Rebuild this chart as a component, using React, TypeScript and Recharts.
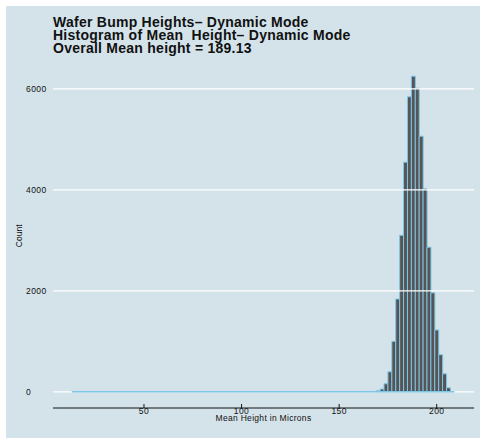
import { BarChart, Bar, XAxis, YAxis, ReferenceLine } from 'recharts'

// histogram of mean bump heights, 2 micron bins (left edges)
const binLeft = [
  169, 171, 173, 175, 177, 179, 181, 183, 185, 187,
  189, 191, 193, 195, 197, 199, 201, 203, 205, 207,
]
const counts = [
  20, 55, 160, 396, 1000, 1838, 3100, 4548, 5842, 6251,
  6013, 5063, 4020, 2865, 1960, 1225, 735, 356, 79, 3,
]
const binWidth = 2
// empty bins run from here up to the first filled bin
const emptyFrom = 13

const xTicks = [50, 100, 150, 200]
const yTicks = [0, 2000, 4000, 6000]

const titleLines = [
  'Wafer Bump Heights\u2013 Dynamic Mode',
  'Histogram of Mean  Height\u2013 Dynamic Mode',
  'Overall Mean height = 189.13',
]

const data = binLeft.map((l, i) => ({ mid: l + binWidth / 2, count: counts[i] }))
const lastEdge = binLeft[binLeft.length - 1] + binWidth

const FONT = '"Liberation Sans", Arial, Helvetica, sans-serif'
const BG = '#d4e3ea'
const BLUE = '#7fc6e6'

const XTick = (props: any) => {
  const { x, y, payload } = props
  return (
    <g>
      <line x1={x} x2={x} y1={y - 4} y2={y} stroke="#111" strokeWidth={1} />
      <text x={x} y={y + 6} textAnchor="middle" fontSize={8.5} fill="#111" fontFamily={FONT} letterSpacing={0.4}>
        {payload.value}
      </text>
    </g>
  )
}

const YTick = (props: any) => {
  const { y, payload } = props
  return (
    <text x={20} y={y + 3} textAnchor="start" fontSize={8.5} fill="#111" fontFamily={FONT} letterSpacing={0.4}>
      {payload.value}
    </text>
  )
}

export default function App() {
  return (
    <div style={{ position: 'absolute', left: 6, top: 6, width: 474, height: 432, background: BG, fontFamily: FONT }}>
      <div
        style={{
          position: 'absolute',
          left: 47,
          top: 9.5,
          fontSize: 14,
          lineHeight: '13px',
          letterSpacing: 0.25,
          fontWeight: 'bold',
          color: '#111',
          whiteSpace: 'pre',
        }}
      >
        {titleLines.map((t) => (
          <div key={t}>{t}</div>
        ))}
      </div>
      <BarChart
        width={474}
        height={432}
        data={data}
        margin={{ top: 57.6, right: 6, bottom: 0, left: 0 }}
        barCategoryGap={0}
        barGap={0}
      >
        <XAxis
          dataKey="mid"
          type="number"
          domain={[3.38, 219.1]}
          ticks={xTicks}
          allowDataOverflow
          height={30}
          tickLine={false}
          tickSize={0}
          tickMargin={0}
          axisLine={{ stroke: '#111', strokeWidth: 1 }}
          tick={<XTick />}
          label={{
            value: 'Mean Height in Microns',
            position: 'insideBottom',
            offset: 17,
            fontSize: 8.5,
            fill: '#111',
            fontFamily: FONT,
            letterSpacing: 0.3,
          }}
        />
        <YAxis
          type="number"
          domain={[-320, 6500]}
          ticks={yTicks}
          allowDataOverflow
          width={47}
          axisLine={false}
          tickLine={false}
          tick={<YTick />}
          label={{
            value: 'Count',
            angle: -90,
            position: 'insideLeft',
            offset: 13,
            fontSize: 8.5,
            fill: '#111',
            fontFamily: FONT,
            style: { textAnchor: 'middle' },
          }}
        />
        {yTicks.map((t) => (
          <ReferenceLine key={t} y={t} stroke="#ffffff" strokeWidth={1.2} />
        ))}
        <ReferenceLine
          segment={[
            { x: emptyFrom, y: 0 },
            { x: lastEdge, y: 0 },
          ]}
          stroke={BLUE}
          strokeWidth={1.5}
        />
        <Bar dataKey="count" fill="#555555" stroke={BLUE} strokeWidth={1} isAnimationActive={false} />
      </BarChart>
    </div>
  )
}
